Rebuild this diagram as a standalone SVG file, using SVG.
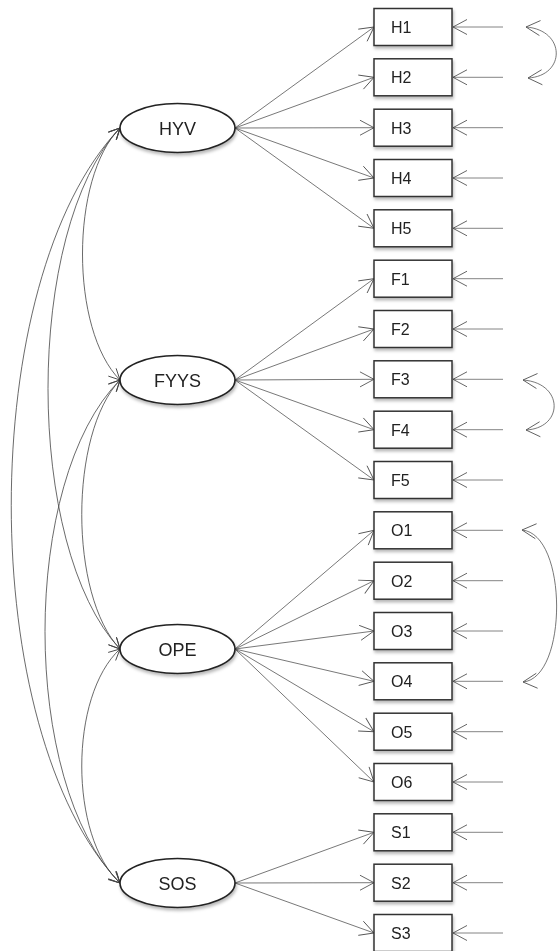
<svg xmlns="http://www.w3.org/2000/svg" width="558" height="951" viewBox="0 0 558 951">
<style>
.box{fill:#fff;stroke:#333;stroke-width:1.5}
.ell{fill:#fff;stroke:#222;stroke-width:1.6}
.bl{font-family:"Liberation Sans",Arial,sans-serif;font-size:16px;fill:#222}
.el{font-family:"Liberation Sans",Arial,sans-serif;font-size:18px;fill:#222;text-anchor:middle}
.ld{fill:none;stroke:#555;stroke-width:0.8;marker-end:url(#a)}
.er{fill:none;stroke:#777;stroke-width:0.9;marker-end:url(#a)}
.cr{fill:none;stroke:#555;stroke-width:0.8;marker-start:url(#a);marker-end:url(#a)}
.cl{fill:none;stroke:#444;stroke-width:0.8;marker-start:url(#b);marker-end:url(#b)}
.nd{filter:url(#sh)}
</style>
<defs>
<marker id="a" markerUnits="userSpaceOnUse" markerWidth="20" markerHeight="20" viewBox="-16 -10 20 20" refX="0" refY="0" orient="auto-start-reverse" overflow="visible"><path d="M-14,-7.5 L0,0 L-14,7.5" fill="none" stroke="#555" stroke-width="0.9"/></marker>
<marker id="b" markerUnits="userSpaceOnUse" markerWidth="20" markerHeight="20" viewBox="-16 -10 20 20" refX="0" refY="0" orient="auto-start-reverse" overflow="visible"><path d="M-11,-5.5 L0,0 L-11,5.5" fill="none" stroke="#444" stroke-width="0.9"/></marker>
<filter id="sh" x="-20%" y="-30%" width="140%" height="170%"><feDropShadow dx="1" dy="2.5" stdDeviation="1.5" flood-color="#000" flood-opacity="0.28"/></filter>
</defs>
<g id="connectors">
<path class="ld" d="M235,128 L374,27"/>
<path class="ld" d="M235,128 L374,77.3"/>
<path class="ld" d="M235,128 L374,127.7"/>
<path class="ld" d="M235,128 L374,178"/>
<path class="ld" d="M235,128 L374,228.3"/>
<path class="ld" d="M235,380 L374,278.7"/>
<path class="ld" d="M235,380 L374,329"/>
<path class="ld" d="M235,380 L374,379.3"/>
<path class="ld" d="M235,380 L374,429.7"/>
<path class="ld" d="M235,380 L374,480"/>
<path class="ld" d="M235,649 L374,530.3"/>
<path class="ld" d="M235,649 L374,580.7"/>
<path class="ld" d="M235,649 L374,631"/>
<path class="ld" d="M235,649 L374,681.3"/>
<path class="ld" d="M235,649 L374,731.7"/>
<path class="ld" d="M235,649 L374,782"/>
<path class="ld" d="M235,883 L374,832.3"/>
<path class="ld" d="M235,883 L374,882.7"/>
<path class="ld" d="M235,883 L374,933"/>
<path class="er" d="M503,27 L453,27"/>
<path class="er" d="M503,77.3 L453,77.3"/>
<path class="er" d="M503,127.7 L453,127.7"/>
<path class="er" d="M503,178 L453,178"/>
<path class="er" d="M503,228.3 L453,228.3"/>
<path class="er" d="M503,278.7 L453,278.7"/>
<path class="er" d="M503,329 L453,329"/>
<path class="er" d="M503,379.3 L453,379.3"/>
<path class="er" d="M503,429.7 L453,429.7"/>
<path class="er" d="M503,480 L453,480"/>
<path class="er" d="M503,530.3 L453,530.3"/>
<path class="er" d="M503,580.7 L453,580.7"/>
<path class="er" d="M503,631 L453,631"/>
<path class="er" d="M503,681.3 L453,681.3"/>
<path class="er" d="M503,731.7 L453,731.7"/>
<path class="er" d="M503,782 L453,782"/>
<path class="er" d="M503,832.3 L453,832.3"/>
<path class="er" d="M503,882.7 L453,882.7"/>
<path class="er" d="M503,933 L453,933"/>
<path class="cr" d="M526,27 C566,30 566,76 528,78"/>
<path class="cr" d="M523,380 C564,383 564,428 526,430"/>
<path class="cr" d="M522,530 C568,534 568,678 523,682"/>
<path class="cl" d="M120,128 C70,178 70,330 120,380"/>
<path class="cl" d="M120,128 C24,230 24,547 120,649"/>
<path class="cl" d="M120,128 C-25,280 -25,731 120,883"/>
<path class="cl" d="M120,380 C69,434 69,595 120,649"/>
<path class="cl" d="M120,380 C20,480 20,783 120,883"/>
<path class="cl" d="M120,649 C69,696 69,836 120,883"/>
</g>
<g id="HYV" class="nd"><ellipse class="ell" cx="177.5" cy="128" rx="57.5" ry="24.5"/><text class="el" x="177.5" y="135">HYV</text></g>
<g id="FYYS" class="nd"><ellipse class="ell" cx="177.5" cy="380" rx="57.5" ry="24.5"/><text class="el" x="177.5" y="387">FYYS</text></g>
<g id="OPE" class="nd"><ellipse class="ell" cx="177.5" cy="649" rx="57.5" ry="24.5"/><text class="el" x="177.5" y="656">OPE</text></g>
<g id="SOS" class="nd"><ellipse class="ell" cx="177.5" cy="883" rx="57.5" ry="24.5"/><text class="el" x="177.5" y="890">SOS</text></g>
<g id="H1" class="nd"><rect class="box" x="374" y="8.5" width="78" height="37"/><text class="bl" x="391" y="33">H1</text></g>
<g id="H2" class="nd"><rect class="box" x="374" y="58.8" width="78" height="37"/><text class="bl" x="391" y="83.3">H2</text></g>
<g id="H3" class="nd"><rect class="box" x="374" y="109.2" width="78" height="37"/><text class="bl" x="391" y="133.7">H3</text></g>
<g id="H4" class="nd"><rect class="box" x="374" y="159.5" width="78" height="37"/><text class="bl" x="391" y="184">H4</text></g>
<g id="H5" class="nd"><rect class="box" x="374" y="209.8" width="78" height="37"/><text class="bl" x="391" y="234.3">H5</text></g>
<g id="F1" class="nd"><rect class="box" x="374" y="260.2" width="78" height="37"/><text class="bl" x="391" y="284.7">F1</text></g>
<g id="F2" class="nd"><rect class="box" x="374" y="310.5" width="78" height="37"/><text class="bl" x="391" y="335">F2</text></g>
<g id="F3" class="nd"><rect class="box" x="374" y="360.8" width="78" height="37"/><text class="bl" x="391" y="385.3">F3</text></g>
<g id="F4" class="nd"><rect class="box" x="374" y="411.2" width="78" height="37"/><text class="bl" x="391" y="435.7">F4</text></g>
<g id="F5" class="nd"><rect class="box" x="374" y="461.5" width="78" height="37"/><text class="bl" x="391" y="486">F5</text></g>
<g id="O1" class="nd"><rect class="box" x="374" y="511.8" width="78" height="37"/><text class="bl" x="391" y="536.3">O1</text></g>
<g id="O2" class="nd"><rect class="box" x="374" y="562.2" width="78" height="37"/><text class="bl" x="391" y="586.7">O2</text></g>
<g id="O3" class="nd"><rect class="box" x="374" y="612.5" width="78" height="37"/><text class="bl" x="391" y="637">O3</text></g>
<g id="O4" class="nd"><rect class="box" x="374" y="662.8" width="78" height="37"/><text class="bl" x="391" y="687.3">O4</text></g>
<g id="O5" class="nd"><rect class="box" x="374" y="713.2" width="78" height="37"/><text class="bl" x="391" y="737.7">O5</text></g>
<g id="O6" class="nd"><rect class="box" x="374" y="763.5" width="78" height="37"/><text class="bl" x="391" y="788">O6</text></g>
<g id="S1" class="nd"><rect class="box" x="374" y="813.8" width="78" height="37"/><text class="bl" x="391" y="838.3">S1</text></g>
<g id="S2" class="nd"><rect class="box" x="374" y="864.2" width="78" height="37"/><text class="bl" x="391" y="888.7">S2</text></g>
<g id="S3" class="nd"><rect class="box" x="374" y="914.5" width="78" height="37"/><text class="bl" x="391" y="939">S3</text></g>
</svg>
